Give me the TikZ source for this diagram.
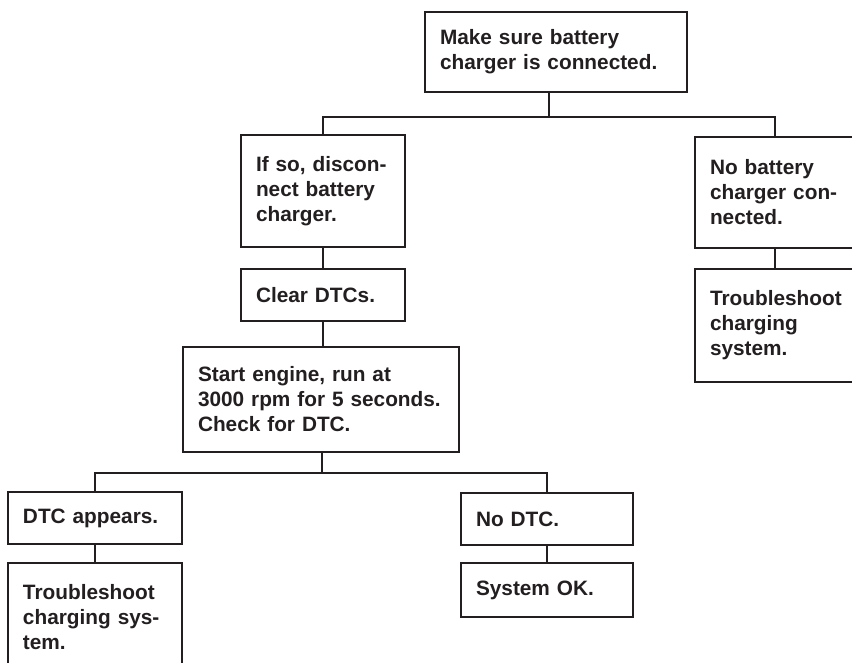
\documentclass[tikz,border=0pt]{standalone}
\usepackage{fontspec}
\setmainfont{Liberation Sans}
\definecolor{ink}{HTML}{231F20}
\begin{document}
\begin{tikzpicture}[x=1pt, y=-1pt,
  box/.style={draw=ink, text=ink, line width=1.4pt, rectangle, outer sep=0pt,
    inner xsep=15pt, inner ysep=0pt, align=left,
    font=\fontsize{20.8}{25}\selectfont\bfseries},
  link/.style={draw=ink, line width=1.4pt},
]
\useasboundingbox (0,0) rectangle (852,662);
\clip (0,0) rectangle (852,662);

% boxes (centres in page pixels, sizes as width/height)
\node[box, text width=232pt, minimum height=80pt]  (top)       at (556,52)    {Make sure battery\\charger is connected.};
\node[box, text width=134pt, minimum height=112pt] (ifso)      at (323,191)   {If so, discon-\\nect battery\\charger.};
\node[box, text width=130pt, minimum height=111pt] (nocharger) at (775,192.5) {No battery\\charger con-\\nected.};
\node[box, text width=134pt, minimum height=52pt]  (clear)     at (323,295)   {Clear DTCs.};
\node[box, text width=130pt, minimum height=113pt] (trbR)      at (775,325.5) {Troubleshoot\\charging\\system.};
\node[box, text width=246pt, minimum height=105pt] (start)     at (321,399.5) {Start engine, run at\\3000 rpm for 5 seconds.\\Check for DTC.};
\node[box, text width=144pt, minimum height=52pt]  (dtc)       at (95,518)    {DTC appears.};
\node[box, text width=142pt, minimum height=52pt]  (nodtc)     at (547,519)   {No DTC.};
\node[box, text width=144pt, minimum height=108pt] (trbL)      at (95,617)    {Troubleshoot\\charging sys-\\tem.};
\node[box, text width=142pt, minimum height=54pt]  (ok)        at (547,590)   {System OK.};

% branch points
\coordinate (j1) at (549,117);
\coordinate (j2) at (322,473);

% connectors
\draw[link] (top.south -| j1) -- (j1);
\draw[link] (ifso.north) |- (j1) -| (nocharger.north);
\draw[link] (ifso.south) -- (clear.north);
\draw[link] (clear.south) -- (clear.south |- start.north);
\draw[link] (nocharger.south) -- (trbR.north);
\draw[link] (start.south -| j2) -- (j2);
\draw[link] (dtc.north) |- (j2) -| (nodtc.north);
\draw[link] (dtc.south) -- (trbL.north);
\draw[link] (nodtc.south) -- (ok.north);
\end{tikzpicture}
\end{document}
